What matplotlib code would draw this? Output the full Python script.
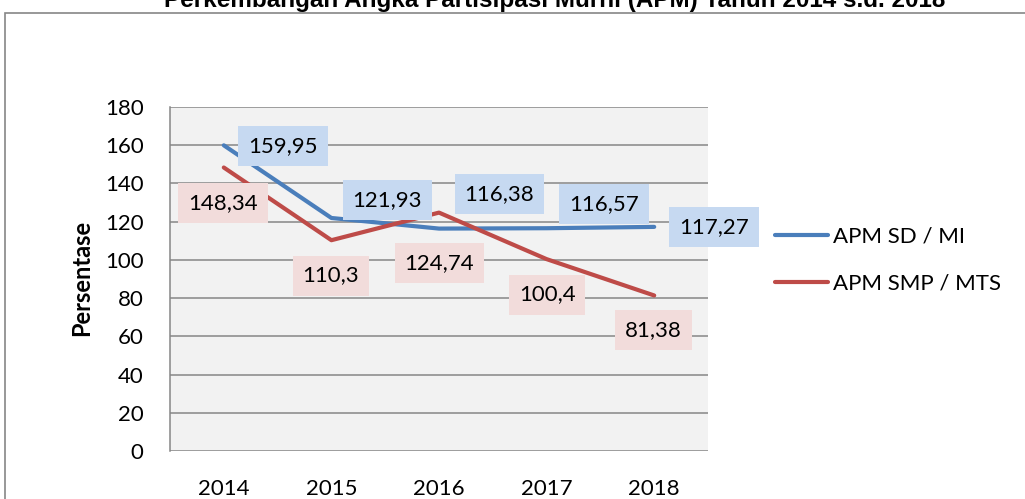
import matplotlib
matplotlib.use("Agg")
import matplotlib.pyplot as plt
from matplotlib.patches import Rectangle

# data
tahun = ["2014", "2015", "2016", "2017", "2018"]
apm_sd = [159.95, 121.93, 116.38, 116.57, 117.27]
apm_smp = [148.34, 110.3, 124.74, 100.4, 81.38]
label_sd = ["159,95", "121,93", "116,38", "116,57", "117,27"]
label_smp = ["148,34", "110,3", "124,74", "100,4", "81,38"]
yticks = [0, 20, 40, 60, 80, 100, 120, 140, 160, 180]

biru = "#4a7ebb"
merah = "#be4b48"
abu = "#868686"

plt.rcParams['font.family'] = ['Lato', 'DejaVu Sans']

fig = plt.figure(figsize=(10.25, 4.99), dpi=100)
ax = fig.add_axes([170/1025, 1-451/499, 538/1025, 344/499])
ax.set_facecolor("#f2f2f2")

x = list(range(len(tahun)))
ax.plot(x, apm_sd, color=biru, lw=3, solid_capstyle='round', label="APM SD / MI", zorder=3)
ax.plot(x, apm_smp, color=merah, lw=3, solid_capstyle='round', label="APM SMP / MTS", zorder=3)

ax.set_xlim(-0.5, 4.5)
ax.set_ylim(0, 180)
ax.set_yticks(yticks)
ax.set_xticks(x)
ax.set_xticklabels(tahun)
ax.yaxis.grid(True, color=abu, lw=1.1)
ax.set_axisbelow(True)
for s in ['top', 'right', 'bottom']:
    ax.spines[s].set_visible(False)
ax.spines['left'].set_color(abu)
ax.spines['left'].set_linewidth(1.1)
ax.tick_params(length=0, labelsize=16)
ax.tick_params(axis='y', pad=19)
ax.tick_params(axis='x', pad=20)

ax.set_ylabel("Persentase", fontsize=17, fontweight='bold')
ax.yaxis.set_label_coords(-(170-93)/538, 0.5 - (278-279)/344)

# label data (offset dalam pixel)
off_sd = [(59, -1), (56, 17.5), (60.5, 34.6), (57.5, 24), (59.5, -0.6)]
off_smp = [(-0.5, -35.5), (-0.5, -35.3), (0.5, -50), (0.5, -35.4), (-0.5, -35)]
for i in range(len(tahun)):
    ax.annotate(label_sd[i], (x[i], apm_sd[i]), xytext=off_sd[i], textcoords='offset pixels',
                ha='center', va='center', fontsize=16, zorder=4,
                bbox=dict(boxstyle='square,pad=0.45', fc="#c6d9f1", ec='none'))
    ax.annotate(label_smp[i], (x[i], apm_smp[i]), xytext=off_smp[i], textcoords='offset pixels',
                ha='center', va='center', fontsize=16, zorder=4,
                bbox=dict(boxstyle='square,pad=0.45', fc="#f2dcdb", ec='none'))

fig.legend(loc='center left', bbox_to_anchor=(755/1025, 1-260/499), frameon=False,
           fontsize=16, handlelength=2.4, handletextpad=0.2, labelspacing=1.2)

# bingkai
fig.patches.append(Rectangle((5/1025, -0.1), 1.2, 1.1 - 13/499, transform=fig.transFigure,
                             fill=False, ec=abu, lw=1.2))

fig.text(555/1025, 1-7/499, "Perkembangan Angka Partisipasi Murni (APM) Tahun 2014 s.d. 2018",
         ha='center', va='baseline', fontsize=17.5, fontweight='bold',
         family=['Liberation Sans Narrow', 'Liberation Sans'])

fig.savefig("out.png", dpi=100)
